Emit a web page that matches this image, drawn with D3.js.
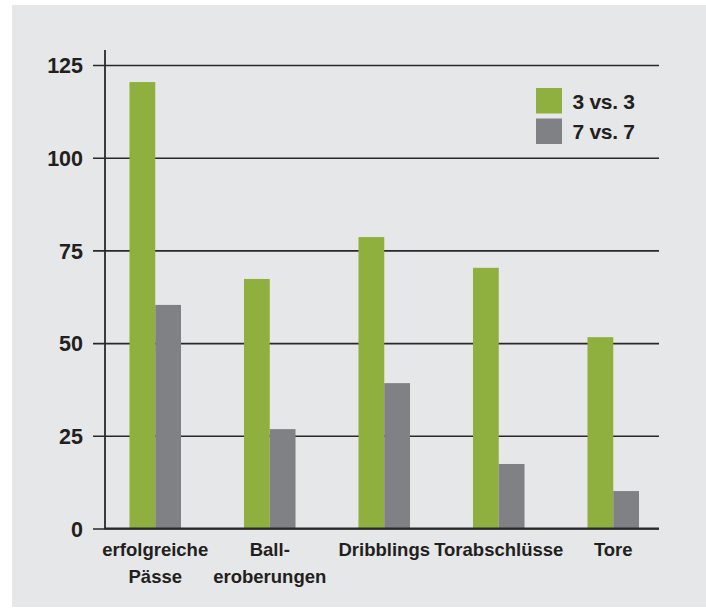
<!DOCTYPE html>
<html lang="de">
<head>
  <meta charset="UTF-8">
  <title>3 vs. 3 / 7 vs. 7</title>
  <script src="https://d3js.org/d3.v7.min.js"></script>
  <style>
    body { margin: 0; background: #fff; }
    text {
      font-family: "Liberation Sans", Arial, sans-serif;
      font-weight: bold;
      fill: #231f20;
    }
    .grid line { stroke: #2a2829; stroke-width: 1.6px; }
  </style>
</head>
<body>
  <svg width="706" height="608"></svg>
  <script>
    const categories = ["erfolgreiche Pässe", "Ball- eroberungen", "Dribblings", "Torabschlüsse", "Tore"];
    const labelLines = [["erfolgreiche", "Pässe"], ["Ball-", "eroberungen"], ["Dribblings"], ["Torabschlüsse"], ["Tore"]];
    const series = ["3 vs. 3", "7 vs. 7"];
    const values3 = [120.4, 67.3, 78.6, 70.3, 51.6];
    const values7 = [60.3, 26.8, 39.2, 17.4, 10.1];
    const yTicks = [0, 25, 50, 75, 100, 125];
    const colors = ["#8fb03f", "#808185"];

    const svg = d3.select("svg");

    // grauer Hintergrund
    svg.append("rect")
      .attr("x", 12).attr("y", 5)
      .attr("width", 694).attr("height", 602)
      .attr("fill", "#e6e7e8");

    const y = d3.scaleLinear().domain([0, 125]).range([528.5, 65]);

    const x = d3.scaleBand()
      .domain(categories)
      .range([98, 670.5])
      .paddingInner(0.55)
      .paddingOuter(0.275);

    const xs = d3.scaleBand()
      .domain(series)
      .range([0, x.bandwidth()]);

    // y-Achse mit Gitterlinien
    const yAxis = svg.append("g")
      .attr("class", "grid")
      .attr("transform", "translate(93,0)")
      .call(d3.axisLeft(y).tickValues(yTicks).tickSize(-(659 - 93)).tickPadding(10));
    yAxis.select(".domain").remove();
    yAxis.selectAll("text")
      .attr("fill", "#231f20")
      .style("font-size", "21.5px")
      .attr("dy", "0.36em");

    // Balken
    const data = categories.map((c, i) => ({ c, v: [values3[i], values7[i]] }));
    const groups = svg.append("g")
      .selectAll("g")
      .data(data)
      .join("g")
      .attr("transform", d => `translate(${x(d.c)},0)`);

    groups.selectAll("rect")
      .data(d => d.v.map((v, j) => ({ s: series[j], v, j })))
      .join("rect")
      .attr("x", d => xs(d.s))
      .attr("width", xs.bandwidth())
      .attr("y", d => y(d.v))
      .attr("height", d => y(0) - y(d.v))
      .attr("fill", d => colors[d.j]);

    // Achsenlinien
    svg.append("line")
      .attr("x1", 105).attr("x2", 105)
      .attr("y1", 50).attr("y2", y(0))
      .attr("stroke", "#2a2829").attr("stroke-width", 1.8);
    svg.append("line")
      .attr("x1", 104).attr("x2", 659)
      .attr("y1", y(0)).attr("y2", y(0))
      .attr("stroke", "#2a2829").attr("stroke-width", 1.8);

    // Kategorien-Beschriftung
    const xl = svg.append("g")
      .selectAll("text")
      .data(categories)
      .join("text")
      .attr("text-anchor", "middle")
      .attr("y", 556)
      .style("font-size", "18.5px");
    xl.each(function (c, i) {
      d3.select(this).selectAll("tspan")
        .data(labelLines[i])
        .join("tspan")
        .attr("x", x(c) + x.bandwidth() / 2)
        .attr("dy", (d, k) => k === 0 ? 0 : 27)
        .text(d => d);
    });

    // Legende
    const legend = svg.append("g")
      .selectAll("g")
      .data(series)
      .join("g")
      .attr("transform", (d, i) => `translate(536,${88 + i * 30.5})`);
    legend.append("rect")
      .attr("width", 26).attr("height", 25.5)
      .attr("fill", (d, i) => colors[i]);
    legend.append("text")
      .attr("x", 36.5)
      .attr("y", 20.5)
      .style("font-size", "21px")
      .style("letter-spacing", "-0.3px")
      .text(d => d);
  </script>
</body>
</html>
